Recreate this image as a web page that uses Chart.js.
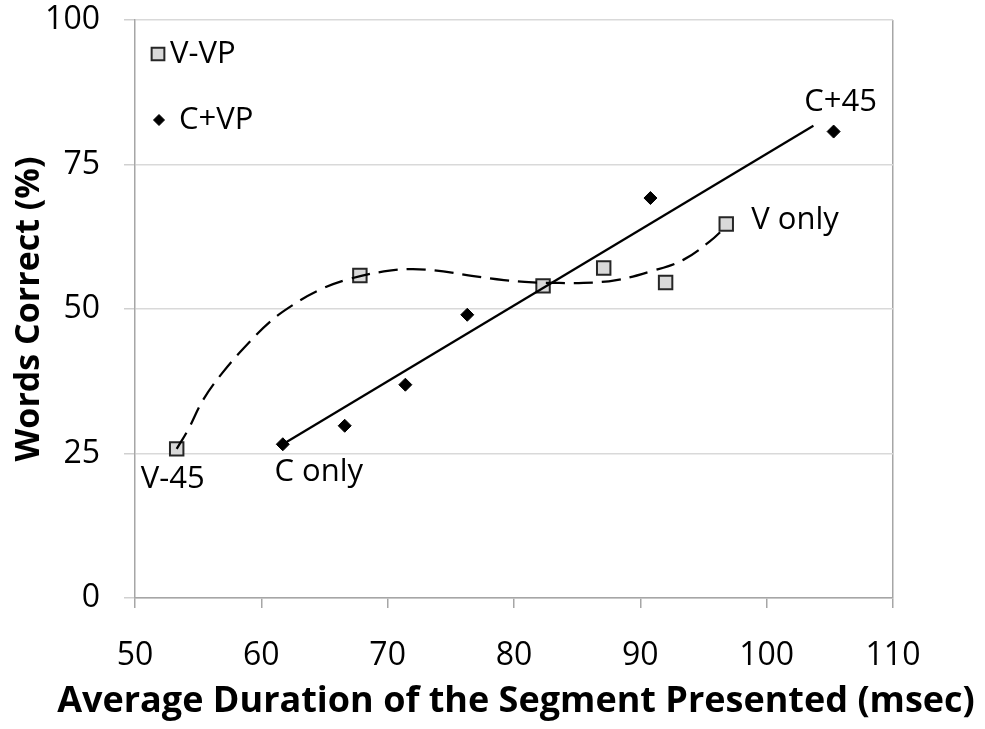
<!DOCTYPE html>
<html>
<head>
<meta charset="utf-8">
<script src="https://cdn.jsdelivr.net/npm/chart.js@4.4.1/dist/chart.umd.min.js"></script>
<style>
  html, body { margin: 0; padding: 0; background: #ffffff; }
  #wrap { width: 985px; height: 729px; }
</style>
</head>
<body>
<div id="wrap"><canvas id="c" width="985" height="729"></canvas></div>
<script>
// ---- data ----
const vvpX = [53.3, 67.8, 82.3, 87.1, 92.0, 96.8];
const vvpY = [25.8, 55.8, 54.0, 57.1, 54.6, 64.7];
const cvpX = [61.7, 66.6, 71.4, 76.3, 90.8, 105.3];
const cvpY = [26.6, 29.8, 36.9, 49.0, 69.2, 80.7];
// dashed trend curve of V-VP
const vvpTrendX = [53.3, 54.2, 55.4, 56.9, 58.6, 60.7, 62.5, 64.6, 66.8, 69.7, 72.0, 74.4, 76.8, 79.2, 81.5, 83.6, 85.5, 88.1, 90.8, 93.4, 95.5, 96.8];
const vvpTrendY = [25.8, 29.1, 34.3, 38.9, 43.2, 47.8, 50.7, 53.3, 55.1, 56.5, 56.9, 56.5, 55.7, 55.0, 54.6, 54.5, 54.5, 55.0, 56.5, 58.5, 61.7, 64.3];
// solid linear trend line of C+VP (end points)
const cvpTrendX = [61.7, 103.7];
const cvpTrendY = [26.6, 81.7];
const seriesNames = ['V-VP', 'C+VP'];
const pointLabels = [
  { series: 0, index: 0, text: 'V-45' },
  { series: 0, index: 5, text: 'V only' },
  { series: 1, index: 0, text: 'C only' },
  { series: 1, index: 5, text: 'C+45' }
];
const xTicks = [50, 60, 70, 80, 90, 100, 110];
const yTicks = [0, 25, 50, 75, 100];
const xTitle = 'Average Duration of the Segment Presented (msec)';
const yTitle = 'Words Correct (%)';

const zip = (xs, ys) => xs.map((x, i) => ({ x: x, y: ys[i] }));

const FONT = 'Open Sans';
const tickFont = { family: FONT, size: 32 };
const labelFontSize = 31;
const xTitleFont = { family: FONT, size: 36, weight: 'bold' };
const yTitleFont = { family: FONT, size: 34, weight: 'bold' };

// label offsets relative to the marker (style only)
const labelPlace = {
  'V-45':   { dx: -4, dy: 30, align: 'center' },
  'V only': { dx: 25, dy: -4, align: 'left' },
  'C only': { dx: 36, dy: 28, align: 'center' },
  'C+45':   { dx: 7, dy: -29, align: 'center' }
};

const annotate = {
  id: 'annotate',
  afterDraw(chart) {
    const ctx = chart.ctx;
    const xs = chart.scales.x, ys = chart.scales.y;
    ctx.save();
    ctx.fillStyle = '#000';
    ctx.font = `${labelFontSize}px "${FONT}"`;
    ctx.textBaseline = 'middle';
    pointLabels.forEach(l => {
      const pt = chart.data.datasets[l.series].data[l.index];
      const px = xs.getPixelForValue(pt.x), py = ys.getPixelForValue(pt.y);
      const p = labelPlace[l.text];
      ctx.textAlign = p.align;
      ctx.fillText(l.text, px + p.dx, py + p.dy);
    });
    // legend inside plot area
    const ca = chart.chartArea;
    const items = [
      { ds: chart.data.datasets[0], x: ca.left + 23, y: ca.top + 34, r: 9, gap: 12 },
      { ds: chart.data.datasets[1], x: ca.left + 24, y: ca.top + 100, r: 5.5, gap: 20 }
    ];
    items.forEach((it, i) => {
      ctx.save();
      ctx.fillStyle = it.ds.backgroundColor;
      ctx.strokeStyle = it.ds.borderColor;
      ctx.lineWidth = it.ds.pointStyle === 'rect' ? 2 : 1;
      Chart.helpers.drawPoint(ctx, { pointStyle: it.ds.pointStyle, radius: it.r, rotation: 0, borderWidth: ctx.lineWidth }, it.x, it.y);
      ctx.restore();
      ctx.textAlign = 'left';
      ctx.fillText(seriesNames[i], it.x + it.gap, it.y);
    });
    // x axis title (drawn centred below the axis without width compression)
    ctx.font = `bold ${xTitleFont.size}px "${FONT}"`;
    ctx.textAlign = 'center';
    ctx.fillText(xTitle, (ca.left + ca.right) / 2 + 2, 702);
    ctx.restore();
  }
};

new Chart(document.getElementById('c'), {
  type: 'scatter',
  data: {
    datasets: [
      {
        label: seriesNames[0],
        data: zip(vvpX, vvpY),
        pointStyle: 'rect',
        pointRadius: 9.5,
        pointHoverRadius: 9.5,
        backgroundColor: '#d9d9d9',
        borderColor: '#262626',
        pointBorderWidth: 2,
        showLine: false,
        order: 2
      },
      {
        label: seriesNames[1],
        data: zip(cvpX, cvpY),
        pointStyle: 'rectRot',
        pointRadius: 6.5,
        pointHoverRadius: 6.5,
        backgroundColor: '#000000',
        borderColor: '#000000',
        pointBorderWidth: 1,
        showLine: false,
        order: 2
      },
      {
        label: 'V-VP trend',
        data: zip(vvpTrendX, vvpTrendY),
        showLine: true,
        pointRadius: 0,
        borderColor: '#000000',
        borderWidth: 2.25,
        borderDash: [19, 9],
        tension: 0.4,
        fill: false,
        order: 1
      },
      {
        label: 'C+VP trend',
        data: zip(cvpTrendX, cvpTrendY),
        showLine: true,
        pointRadius: 0,
        borderColor: '#000000',
        borderWidth: 2.25,
        fill: false,
        order: 1
      }
    ]
  },
  options: {
    responsive: false,
    animation: false,
    devicePixelRatio: 1,
    layout: { padding: { left: 0, top: 20, right: 92, bottom: 0 } },
    plugins: {
      legend: { display: false },
      tooltip: { enabled: false }
    },
    scales: {
      x: {
        type: 'linear',
        min: 50, max: 110,
        afterBuildTicks: s => { s.ticks = xTicks.map(v => ({ value: v })); },
        afterFit: s => { s.height = 131; s.paddingLeft = 0; s.paddingRight = 0; },
        ticks: { font: tickFont, color: '#000', padding: 29, maxRotation: 0 },
        grid: {
          drawOnChartArea: true,
          color: c => (c.tick && c.tick.value === 110) ? '#a6a6a6' : 'rgba(0,0,0,0)',
          lineWidth: 1.5,
          tickLength: 10,
          tickColor: '#a6a6a6',
          tickWidth: 1.5
        },
        border: { color: '#a6a6a6', width: 1.5 },
        title: { display: false }
      },
      y: {
        min: 0, max: 100,
        afterBuildTicks: s => { s.ticks = yTicks.map(v => ({ value: v })); },
        afterFit: s => { s.width = 135; s.paddingTop = 0; s.paddingBottom = 0; },
        ticks: { font: tickFont, color: '#000', padding: 24 },
        grid: {
          color: '#d9d9d9',
          lineWidth: 1.5,
          tickLength: 11,
          tickColor: '#d0d0d0',
          tickWidth: 1.5
        },
        border: { color: '#a6a6a6', width: 1.5 },
        title: {
          display: true,
          text: yTitle,
          color: '#000',
          font: yTitleFont,
          padding: { top: 9, bottom: 0 }
        }
      }
    }
  },
  plugins: [annotate]
});
</script>
</body>
</html>
